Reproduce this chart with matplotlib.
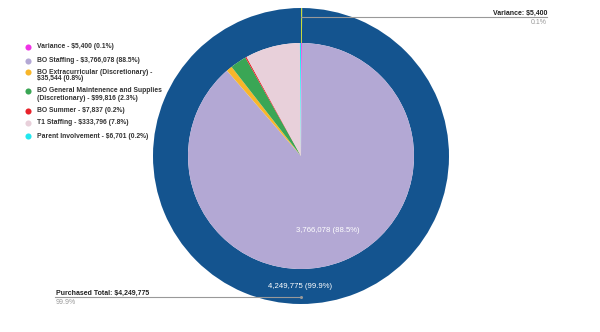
import matplotlib.pyplot as plt

plt.rcParams['font.family'] = ['Liberation Sans', 'DejaVu Sans']

# inner pie: budget items
items = ['Variance', 'BO Staffing', 'BO Extracurricular (Discretionary)',
         'BO General Maintenence and Supplies (Discretionary)', 'BO Summer',
         'T1 Staffing', 'Parent Involvement']
legend_labels = ['Variance - $5,400 (0.1%)',
                 'BO Staffing - $3,766,078 (88.5%)',
                 'BO Extracurricular (Discretionary) -\n$35,544 (0.8%)',
                 'BO General Maintenence and Supplies\n(Discretionary) - $99,816 (2.3%)',
                 'BO Summer - $7,837 (0.2%)',
                 'T1 Staffing - $333,796 (7.8%)',
                 'Parent Involvement - $6,701 (0.2%)']
amounts = [5400, 3766078, 35544, 99816, 7837, 333796, 6701]
item_colors = ['#f032e6', '#b3a8d4', '#f8b62a', '#3aa655', '#e8222a', '#e8d0da', '#22e8ef']

# outer ring: purchased vs variance
outer_names = ['Variance', 'Purchased Total']
outer_values = [5400, 4249775]
outer_colors = ['#c9dc3a', '#14548f']

fig = plt.figure(figsize=(6, 3.32), dpi=100)
ax = fig.add_axes([0, 0, 1, 1])

cx, cy = 301, 332 - 156
R_out, R_in = 148, 113

outer, _ = ax.pie(outer_values, colors=outer_colors, startangle=90, counterclock=False,
                  radius=R_out, center=(cx, cy), wedgeprops=dict(width=R_out - R_in, linewidth=0))
inner, _ = ax.pie(amounts, colors=item_colors, startangle=90, counterclock=False,
                  radius=R_in, center=(cx, cy), wedgeprops=dict(linewidth=0))

ax.set_xlim(0, 600)
ax.set_ylim(0, 332)
ax.axis('off')

# slice labels
ax.text(328, 332 - 230, '3,766,078 (88.5%)', color='white', fontsize=5.6, ha='center', va='center')
ax.text(300, 332 - 286, '4,249,775 (99.9%)', color='white', fontsize=5.6, ha='center', va='center')

# callouts
ax.plot([cx, 547], [332 - 17, 332 - 17], color='#999999', lw=0.8)
ax.text(547, 332 - 16.5, 'Variance: $5,400', fontsize=5, fontweight='bold', ha='right', va='bottom', color='#222222')
ax.text(547, 332 - 19, '0.1%', fontsize=5, ha='right', va='top', color='#999999')

ax.plot([55, cx], [332 - 297, 332 - 297], color='#999999', lw=0.8)
ax.plot([cx], [332 - 297], marker='o', ms=1.2, color='#999999')
ax.text(56, 332 - 296.5, 'Purchased Total: $4,249,775', fontsize=5, fontweight='bold', ha='left', va='bottom', color='#222222')
ax.text(56, 332 - 299, '99.9%', fontsize=5, ha='left', va='top', color='#999999')

# legend (marker sits on the first line of each entry)
legend_y = [47, 60.5, 72, 91, 110.5, 123, 136]
for lab, col, y in zip(legend_labels, item_colors, legend_y):
    ax.plot([28], [332 - y], marker='o', ms=4.4, color=col, mec='none')
    for i, line in enumerate(lab.split('\n')):
        ax.text(37, 332 - y - i * 7, line, fontsize=4.85, fontweight='bold', ha='left', va='center',
                color='#333333')

fig.savefig('out.png', dpi=100)
